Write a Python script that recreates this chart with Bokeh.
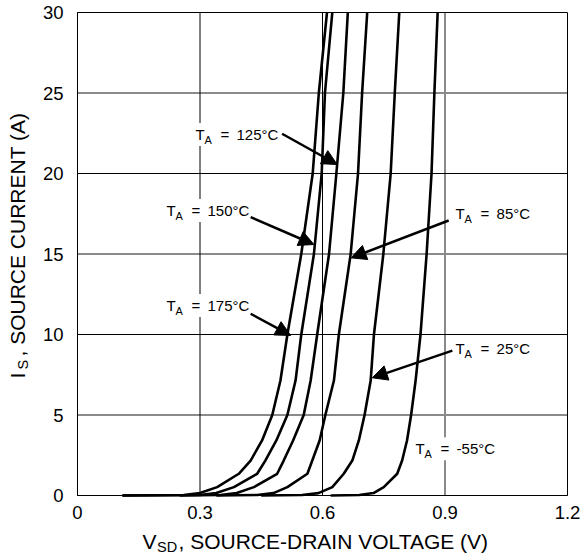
import math
from bokeh.plotting import figure
from bokeh.models import ColumnDataSource, FixedTicker, Label, Arrow, NormalHead, Range1d
from bokeh.core.properties import value
from bokeh.embed import file_html
from bokeh.resources import INLINE

# ---------------- data ----------------
current_a = [0, 0.03, 0.15, 0.52, 1.35, 2.17, 3.42, 5, 7.14, 10, 15, 20, 25, 30]
vsd_175 = [0.11, 0.26, 0.30, 0.342, 0.395, 0.424, 0.452, 0.477, 0.497, 0.514, 0.548, 0.576, 0.591, 0.611]
vsd_150 = [0.11, 0.30, 0.34, 0.383, 0.440, 0.460, 0.487, 0.514, 0.534, 0.548, 0.579, 0.598, 0.606, 0.624]
vsd_125 = [0.25, 0.35, 0.39, 0.432, 0.489, 0.505, 0.528, 0.554, 0.571, 0.587, 0.616, 0.634, 0.651, 0.662]
vsd_85 = [0.34, 0.44, 0.48, 0.514, 0.563, 0.575, 0.593, 0.607, 0.628, 0.640, 0.669, 0.687, 0.697, 0.7095]
vsd_25 = [0.45, 0.55, 0.59, 0.624, 0.652, 0.673, 0.689, 0.703, 0.718, 0.726, 0.749, 0.767, 0.777, 0.788]
vsd_m55 = [0.62, 0.69, 0.725, 0.750, 0.783, 0.795, 0.807, 0.817, 0.828, 0.840, 0.855, 0.867, 0.874, 0.882]

x_ticks = [0, 0.3, 0.6, 0.9, 1.2]
x_tick_labels = ["0", "0.3", "0.6", "0.9", "1.2"]
y_ticks = [0, 5, 10, 15, 20, 25, 30]
x_grid_dark = [0.3, 0.6]
x_grid_light = [0.9]
y_grid_dark = [10, 20]
y_grid_light = [5, 15, 25]

ann_main = ["T", "T", "T", "T", "T", "T"]
ann_sub = ["A", "A", "A", "A", "A", "A"]
ann_eq = ["=", "=", "=", "=", "=", "="]
ann_temp = ["125°C", "150°C", "175°C", "85°C", "25°C", "-55°C"]
ann_v = [0.289, 0.218, 0.218, 0.926, 0.926, 0.828]
ann_i = [22.42, 17.70, 11.80, 17.50, 9.11, 2.90]

arrow_v0 = [0.501, 0.424, 0.424, 0.909, 0.918]
arrow_i0 = [22.47, 17.29, 11.29, 17.08, 9.00]
arrow_v1 = [0.636, 0.579, 0.522, 0.670, 0.722]
arrow_i1 = [20.56, 15.59, 9.94, 14.76, 7.31]

# ---------------- layout (pixels) ----------------
FONT = "Liberation Sans"
W, H = 580, 553                 # canvas = frame
PX_LEFT, PX_RIGHT = 77, 567     # where x = 0 and x = 1.2 fall
PX_TOP, PX_BOTTOM = 12, 495     # where y = 30 and y = 0 fall
XMIN, XMAX = x_ticks[0], x_ticks[-1]
YMIN, YMAX = y_ticks[0], y_ticks[-1]
sx = (PX_RIGHT - PX_LEFT) / (XMAX - XMIN)
sy = (PX_BOTTOM - PX_TOP) / (YMAX - YMIN)
x_start = XMIN - PX_LEFT / sx
x_end = x_start + W / sx
y_end = YMAX + PX_TOP / sy
y_start = y_end - H / sy


def dx(px):
    return x_start + px / sx


def dy(py):
    return y_end - py / sy


p = figure(frame_width=W, frame_height=H, min_border=0,
           x_range=Range1d(x_start, x_end), y_range=Range1d(y_start, y_end),
           output_backend="svg", toolbar_location=None,
           background_fill_color="white", border_fill_color="white")
p.title.visible = False
p.outline_line_color = None
p.xgrid.visible = False
p.ygrid.visible = False

p.xaxis.fixed_location = YMIN
p.yaxis.fixed_location = XMIN
p.xaxis.bounds = (XMIN, XMAX)
p.yaxis.bounds = (YMIN, YMAX)
for ax in (p.xaxis, p.yaxis):
    ax.axis_line_color = "black"
    ax.major_tick_in = 0
    ax.major_tick_out = 0
    ax.minor_tick_line_color = None
    ax.major_label_text_font = FONT
    ax.major_label_text_font_size = "18.5px"
    ax.major_label_text_color = "black"
p.xaxis.ticker = FixedTicker(ticks=x_ticks)
p.xaxis.major_label_overrides = {t: l for t, l in zip(x_ticks, x_tick_labels)}
p.xaxis.major_label_standoff = 10
p.yaxis.ticker = FixedTicker(ticks=y_ticks)
p.yaxis.major_label_standoff = 14

# grid lines drawn from the tick lists
p.segment(x0=x_grid_light, y0=[YMIN] * len(x_grid_light), x1=x_grid_light, y1=[YMAX] * len(x_grid_light),
          line_color="#8a8a8a", line_width=2)
p.segment(x0=[XMIN] * len(y_grid_light), y0=y_grid_light, x1=[XMAX] * len(y_grid_light), y1=y_grid_light,
          line_color="#8a8a8a", line_width=2)
p.segment(x0=x_grid_dark, y0=[YMIN] * len(x_grid_dark), x1=x_grid_dark, y1=[YMAX] * len(x_grid_dark),
          line_color="black", line_width=1)
p.segment(x0=[XMIN] * len(y_grid_dark), y0=y_grid_dark, x1=[XMAX] * len(y_grid_dark), y1=y_grid_dark,
          line_color="black", line_width=1)
p.quad(left=[XMIN], right=[XMAX], bottom=[YMIN], top=[YMAX], fill_color=None,
       line_color="black", line_width=1)

for vs in (vsd_175, vsd_150, vsd_125, vsd_85, vsd_25, vsd_m55):
    p.line(vs, current_a, line_color="black", line_width=2.6, line_join="round")

# annotations: background pass then text pass
src = ColumnDataSource(dict(x=ann_v, y=ann_i, t=ann_main, s=ann_sub, e=ann_eq, n=ann_temp))
pieces = [("t", 0, 0, "15px"), ("s", 9, 5, "11px"), ("e", 25, 0, "15px"), ("n", 41, 0, "15px")]
for col, xo, yo, fs in pieces:
    p.text("x", "y", text=col, source=src, x_offset=xo, y_offset=yo, text_font=value(FONT),
           text_font_size=fs, text_baseline="middle", text_align="left", text_color="white",
           background_fill_color="white", padding=3)
for col, xo, yo, fs in pieces:
    p.text("x", "y", text=col, source=src, x_offset=xo, y_offset=yo, text_font=value(FONT),
           text_font_size=fs, text_baseline="middle", text_align="left", text_color="black")

asrc = ColumnDataSource(dict(x0=arrow_v0, y0=arrow_i0, x1=arrow_v1, y1=arrow_i1))
p.add_layout(Arrow(x_start="x0", y_start="y0", x_end="x1", y_end="y1", source=asrc,
                   line_color="black", line_width=2.5,
                   end=NormalHead(size=15, fill_color="black", line_color="black", line_width=1)))


def lab(text, px, py, size, angle=0.0):
    p.add_layout(Label(x=dx(px), y=dy(py), text=text, text_font=FONT, text_font_size=size,
                       text_color="black", text_align="left", text_baseline="middle", angle=angle))


lab("V", 142, 541, "21px")
lab("SD", 156.5, 546, "14.5px")
lab(", SOURCE-DRAIN VOLTAGE (V)", 178, 541, "21px")
lab("I", 17, 378, "21px", math.pi / 2)
lab("S", 22.5, 369, "14.5px", math.pi / 2)
lab(", SOURCE CURRENT (A)", 17, 356, "21px", math.pi / 2)

open("out.html", "w").write(file_html(p, INLINE))
